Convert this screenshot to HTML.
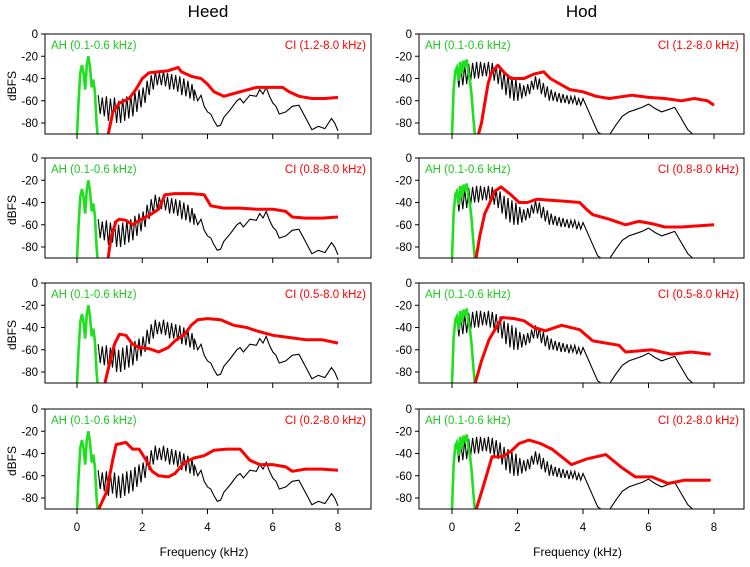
<!DOCTYPE html>
<html><head><meta charset="utf-8"><style>
body{margin:0;background:#fff;width:750px;height:562px;overflow:hidden}
svg{font-family:"Liberation Sans",Arial,sans-serif}
</style></head><body>
<svg id="chart" width="750" height="562"></svg>
<script>
const xTicks=[0,2,4,6,8];
const yTicks=[0,-20,-40,-60,-80];
const colTitles=["Heed","Hod"];
const ciLabels=[["CI (1.2-8.0 kHz)","CI (0.8-8.0 kHz)","CI (0.5-8.0 kHz)","CI (0.2-8.0 kHz)"],["CI (1.2-8.0 kHz)","CI (0.8-8.0 kHz)","CI (0.5-8.0 kHz)","CI (0.2-8.0 kHz)"]];
const heedHarmStart=0.65, heedHarmStep=0.125;
const heedPk=[-55,-57,-56,-58,-57,-60,-58,-56,-55,-52,-50,-48,-42,-37,-33,-35,-33,-35,-36,-37,-38,-40,-42,-45];
const heedTr=[-72,-74,-78,-76,-80,-80,-78,-76,-74,-70,-66,-62,-55,-50,-46,-46,-47,-50,-50,-52,-55,-56,-58,-60];
const heedTailF=[3.6,3.7,3.8,3.9,4.0,4.1,4.2,4.3,4.4,4.5,4.7,4.9,5.0,5.1,5.3,5.5,5.6,5.7,5.8,5.9,6.0,6.1,6.2,6.4,6.6,6.8,7.0,7.2,7.4,7.6,7.8,7.9,8.0];
const heedTailV=[-50,-60,-55,-65,-70,-72,-78,-83,-82,-75,-68,-60,-58,-62,-55,-56,-50,-54,-48,-56,-62,-65,-72,-70,-65,-64,-75,-86,-83,-85,-76,-80,-87];
const hodHarmStart=0.15, hodHarmStep=0.12;
const hodPk=[-32,-30,-28,-27,-26,-25,-25,-26,-25,-26,-28,-30,-34,-36,-38,-40,-44,-46,-45,-42,-38,-40,-44,-47,-50,-52,-53,-54,-55,-56,-56,-58];
const hodTr=[-48,-46,-45,-42,-40,-40,-38,-38,-40,-42,-45,-50,-55,-58,-60,-60,-58,-56,-54,-50,-50,-54,-57,-60,-60,-61,-62,-62,-63,-62,-64,-64];
const hodTailF=[4.0,4.15,4.3,4.45,4.6,4.8,5.0,5.2,5.4,5.6,5.8,6.0,6.2,6.4,6.6,6.8,7.0,7.2,7.35];
const hodTailV=[-58,-68,-78,-88,-91,-91,-82,-74,-70,-68,-66,-63,-67,-70,-68,-66,-76,-86,-90];
const heedAhF=[0,0.05,0.1,0.15,0.2,0.25,0.3,0.35,0.4,0.45,0.5,0.55,0.6,0.63];
const heedAhV=[-91,-60,-35,-28,-35,-50,-28,-20,-30,-48,-41,-52,-80,-91];
const hodAhF=[0,0.05,0.1,0.15,0.2,0.25,0.3,0.35,0.4,0.45,0.5,0.55,0.6,0.65,0.7];
const hodAhV=[-91,-50,-33,-30,-42,-25,-36,-24,-28,-23,-35,-42,-55,-75,-91];
const heedCi1F=[0.95,1.1,1.3,1.6,1.8,1.9,2.0,2.2,2.5,2.8,3.1,3.2,3.5,3.8,4.0,4.2,4.5,5.0,5.5,6.0,6.3,6.5,6.8,7.2,7.6,8.0];
const heedCi1V=[-91,-70,-62,-58,-50,-45,-40,-35,-34,-33,-30,-34,-38,-40,-45,-52,-56,-52,-48,-48,-48,-52,-56,-58,-58,-57];
const heedCi2F=[0.95,1.05,1.2,1.3,1.5,1.7,1.9,2.2,2.5,2.7,3.0,3.5,3.9,4.1,4.5,5.0,5.5,6.0,6.4,6.6,7.0,7.5,8.0];
const heedCi2V=[-91,-70,-57,-55,-56,-60,-56,-52,-46,-33,-32,-32,-33,-43,-45,-45,-46,-46,-48,-53,-54,-54,-53];
const heedCi3F=[0.85,1.0,1.15,1.3,1.5,1.7,1.9,2.2,2.5,2.8,3.0,3.3,3.5,3.7,4.0,4.4,4.8,5.2,5.5,6.0,6.5,7.0,7.5,8.0];
const heedCi3V=[-91,-72,-55,-46,-47,-55,-58,-59,-62,-58,-52,-46,-38,-33,-32,-33,-38,-40,-43,-47,-49,-51,-51,-54];
const heedCi4F=[0.65,0.9,1.1,1.2,1.5,1.7,1.9,2.1,2.3,2.5,2.8,3.0,3.3,3.6,3.9,4.2,4.6,5.0,5.3,5.6,6.0,6.4,6.6,7.0,7.5,8.0];
const heedCi4V=[-91,-75,-45,-32,-30,-36,-36,-45,-56,-60,-61,-58,-48,-44,-42,-37,-36,-36,-46,-50,-50,-52,-56,-54,-54,-55];
const hodCi1F=[0.8,0.9,1.0,1.1,1.2,1.4,1.6,1.8,2.2,2.5,2.8,3.0,3.3,3.6,4.0,4.4,4.8,5.5,6.0,6.5,7.0,7.4,7.8,8.0];
const hodCi1V=[-91,-80,-62,-45,-35,-28,-35,-40,-40,-36,-34,-40,-45,-50,-52,-56,-58,-55,-57,-58,-60,-58,-60,-64];
const hodCi2F=[0.73,0.85,1.0,1.13,1.3,1.5,1.8,2.05,2.3,2.6,3.0,3.5,3.9,4.1,4.3,4.8,5.3,5.7,6.1,6.5,7.0,7.5,8.0];
const hodCi2V=[-91,-70,-50,-42,-30,-26,-33,-40,-40,-37,-38,-39,-40,-46,-51,-55,-60,-57,-59,-62,-62,-61,-60];
const hodCi3F=[0.7,0.9,1.13,1.53,1.9,2.2,2.5,2.85,3.35,3.9,4.3,5.1,5.3,6.1,6.7,7.3,7.9];
const hodCi3V=[-91,-70,-51,-31,-32,-34,-40,-43,-38,-42,-52,-56,-62,-60,-64,-62,-64];
const hodCi4F=[0.73,0.95,1.22,1.53,1.8,2.05,2.35,2.7,3.05,3.65,4.1,4.7,5.2,5.6,6.1,6.6,7.1,7.5,7.9];
const hodCi4V=[-91,-70,-43,-43,-38,-31,-28,-31,-36,-50,-45,-41,-53,-61,-61,-67,-64,-64,-64];

const NS="http://www.w3.org/2000/svg";
const svg=document.getElementById('chart');
function mk(tag,attrs,parent){const e=document.createElementNS(NS,tag);for(const k in attrs)e.setAttribute(k,attrs[k]);(parent||svg).appendChild(e);return e;}
const cols=[{x0:45,x1:371,z:77,s:32.625},{x0:419,x1:744,z:452,s:32.75}];
const rowTops=[34,158,283,409];
const H=100;
function harm(start,step,pk,tr,tf,tv){const f=[],v=[];for(let i=0;i<pk.length;i++){f.push(start+i*step);v.push(pk[i]);f.push(start+i*step+step/2);v.push(tr[i]);}return [f.concat(tf),v.concat(tv)];}
const blacks=[harm(heedHarmStart,heedHarmStep,heedPk,heedTr,heedTailF,heedTailV),harm(hodHarmStart,hodHarmStep,hodPk,hodTr,hodTailF,hodTailV)];
const greens=[[heedAhF,heedAhV],[hodAhF,hodAhV]];
const reds=[[[heedCi1F,heedCi1V],[heedCi2F,heedCi2V],[heedCi3F,heedCi3V],[heedCi4F,heedCi4V]],[[hodCi1F,hodCi1V],[hodCi2F,hodCi2V],[hodCi3F,hodCi3V],[hodCi4F,hodCi4V]]];

cols.forEach((c,ci)=>{
  const t=mk('text',{x:(c.x0+c.x1)/2,y:17,'text-anchor':'middle','font-size':17},svg);t.textContent=colTitles[ci];
  
  
  rowTops.forEach((top,ri)=>{
    const g=mk('g',{});
    
    
    const X=f=>c.z+f*c.s, Y=v=>top+(-v)*1.1125;
    const clipId='cl'+ci+ri;
    const cp=mk('clipPath',{id:clipId},g);mk('rect',{x:c.x0,y:top,width:c.x1-c.x0,height:H},cp);
    const pts=(F,V)=>F.map((f,i)=>X(f).toFixed(1)+','+Y(Math.max(V[i],-91)).toFixed(1)).join(' ');
    const bl=mk('polyline',{points:pts(blacks[ci][0],blacks[ci][1]),fill:'none',stroke:'#000','stroke-width':1.1,'clip-path':'url(#'+clipId+')'},g);
    
    
    const gr=mk('polyline',{points:pts(greens[ci][0],greens[ci][1]),fill:'none',stroke:'#1ee01e','stroke-width':2.6,'clip-path':'url(#'+clipId+')'},g);
    
    
    const rd=mk('polyline',{points:pts(reds[ci][ri][0],reds[ci][ri][1]),fill:'none',stroke:'#f00','stroke-width':3,'stroke-linejoin':'round','clip-path':'url(#'+clipId+')'},g);
    
    
    const box=mk('rect',{x:c.x0,y:top,width:c.x1-c.x0,height:H,fill:'none',stroke:'#000','stroke-width':1},g);
    
    
    yTicks.forEach(v=>{
      mk('line',{x1:c.x0-4,x2:c.x0,y1:Y(v),y2:Y(v),stroke:'#000'},g);
      const tl=mk('text',{x:c.x0-7,y:Y(v)+4,'text-anchor':'end','font-size':11.5},g);tl.textContent=v;
      
      
    });
    xTicks.forEach(f=>{
      mk('line',{x1:X(f),x2:X(f),y1:top+H,y2:top+H+5,stroke:'#000'},g);
      if(ri===3){const tl=mk('text',{x:X(f),y:top+H+22,'text-anchor':'middle','font-size':11.5},g);tl.textContent=f;
        
        }
    });
    const ah=mk('text',{x:c.x0+6,y:top+15,fill:'#1ec81e','font-size':11.5},g);ah.textContent='AH (0.1-0.6 kHz)';
    
    
    const cl=mk('text',{x:c.x1-5,y:top+15,fill:'#f00','font-size':11.5,'text-anchor':'end'},g);cl.textContent=ciLabels[ci][ri];
    
    
    if(ci===0){const yl=mk('text',{x:0,y:0,'font-size':12,'text-anchor':'middle',transform:'translate(16,'+(top+52)+') rotate(-90)'},g);yl.textContent='dBFS';
      
      }
  });
  const xl=mk('text',{x:(c.x0+c.x1)/2-4,y:556,'text-anchor':'middle','font-size':12},svg);xl.textContent='Frequency (kHz)';
  
  
});
</script>
</body></html>
